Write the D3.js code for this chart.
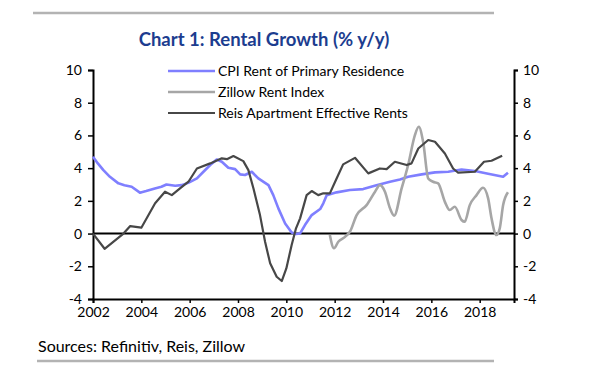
<!DOCTYPE html>
<html>
<head>
<meta charset="utf-8">
<script src="https://cdn.jsdelivr.net/npm/d3@7"></script>
<style>
  body { margin: 0; background: #fff; }
  svg text { font-family: Lato, "Open Sans", sans-serif; fill: #000; }
</style>
</head>
<body>
<div id="chart"></div>
<script>
// series (decimal years, % y/y)
const cpiYears = [2002.0, 2002.2, 2002.43, 2002.7, 2003.05, 2003.3, 2003.6, 2003.94, 2004.2, 2004.56, 2004.83, 2005.04, 2005.4, 2005.66, 2005.94, 2006.3, 2006.57, 2006.85, 2007.12, 2007.33, 2007.6, 2007.88, 2008.09, 2008.29, 2008.57, 2008.84, 2009.26, 2009.46, 2009.67, 2009.95, 2010.22, 2010.4, 2010.57, 2010.77, 2011.05, 2011.4, 2011.53, 2011.67, 2012.08, 2012.63, 2013.18, 2013.73, 2014.29, 2014.7, 2015.04, 2015.6, 2016.15, 2016.7, 2017.25, 2017.8, 2018.35, 2018.97, 2019.17];
const cpiValues = [4.7, 4.29, 3.88, 3.47, 3.07, 2.96, 2.86, 2.5, 2.6, 2.76, 2.86, 3.0, 2.92, 2.96, 3.1, 3.37, 3.78, 4.19, 4.53, 4.39, 4.02, 3.94, 3.62, 3.58, 3.78, 3.37, 2.96, 2.35, 1.54, 0.62, 0.07, -0.03, 0.01, 0.52, 1.13, 1.5, 1.85, 2.35, 2.52, 2.66, 2.72, 2.96, 3.17, 3.31, 3.47, 3.62, 3.74, 3.78, 3.92, 3.82, 3.66, 3.47, 3.72];

const zillowYears = [2011.8, 2011.97, 2012.15, 2012.43, 2012.63, 2012.91, 2013.32, 2013.67, 2013.87, 2014.08, 2014.29, 2014.46, 2014.77, 2015.04, 2015.32, 2015.48, 2015.66, 2015.87, 2016.07, 2016.28, 2016.56, 2016.76, 2016.97, 2017.25, 2017.38, 2017.59, 2017.87, 2018.14, 2018.35, 2018.49, 2018.69, 2018.83, 2018.97, 2019.17];
const zillowValues = [-0.09, -0.9, -0.5, -0.2, 0.11, 1.13, 1.74, 2.56, 2.96, 2.56, 1.54, 1.09, 2.76, 4.19, 6.02, 6.53, 5.61, 3.37, 3.17, 3.07, 1.94, 1.44, 1.64, 0.83, 0.72, 1.74, 2.35, 2.8, 2.15, 0.93, -0.09, 0.32, 1.74, 2.52];

const reisYears = [2002.0, 2002.48, 2003.26, 2003.54, 2004.0, 2004.57, 2004.98, 2005.26, 2005.6, 2005.95, 2006.3, 2006.85, 2007.33, 2007.54, 2007.81, 2008.22, 2008.43, 2008.64, 2008.91, 2009.12, 2009.33, 2009.6, 2009.81, 2010.0, 2010.22, 2010.4, 2010.57, 2010.84, 2011.05, 2011.32, 2011.53, 2011.8, 2012.08, 2012.35, 2012.84, 2013.39, 2013.87, 2014.15, 2014.49, 2014.98, 2015.18, 2015.46, 2015.87, 2016.15, 2016.56, 2016.9, 2017.11, 2017.8, 2018.18, 2018.49, 2018.93];
const reisValues = [0.0, -0.93, 0.0, 0.46, 0.36, 1.85, 2.56, 2.35, 2.76, 3.17, 3.98, 4.29, 4.6, 4.55, 4.74, 4.43, 3.88, 2.76, 1.13, -0.5, -1.82, -2.64, -2.9, -2.13, -0.7, 0.32, 0.93, 2.35, 2.6, 2.35, 2.46, 2.46, 3.37, 4.23, 4.63, 3.68, 3.98, 3.94, 4.39, 4.19, 4.29, 5.2, 5.72, 5.61, 4.9, 3.98, 3.72, 3.78, 4.39, 4.45, 4.76];

const seriesNames = ["CPI Rent of Primary Residence", "Zillow Rent Index", "Reis Apartment Effective Rents"];
const yTicks = [-4, -2, 0, 2, 4, 6, 8, 10];
const xTicks = [2002, 2004, 2006, 2008, 2010, 2012, 2014, 2016, 2018];

const W = 601, H = 376;
const margin = {top: 70, left: 93, right: 87, bottom: 77};

const svg = d3.select("#chart").append("svg")
  .attr("width", W).attr("height", H);

const x = d3.scaleLinear().domain([2002, 2019.42]).range([margin.left, W - margin.right]);
const y = d3.scaleLinear().domain([-4, 10]).range([H - margin.bottom, margin.top]);

// plain hyphen for negatives, like the original
const fmt = d => String(d);

// header / footer rules
svg.append("line").attr("x1", 33).attr("x2", 494).attr("y1", 13).attr("y2", 13)
  .attr("stroke", "#b3b3b3").attr("stroke-width", 2.5);
svg.append("line").attr("x1", 37).attr("x2", 494).attr("y1", 361).attr("y2", 361)
  .attr("stroke", "#b3b3b3").attr("stroke-width", 2.5);

svg.append("text").attr("x", 264).attr("y", 46)
  .attr("text-anchor", "middle")
  .style("font-size", "18.5px").style("font-weight", "bold")
  .style("fill", "#1c3d8f")
  .text("Chart 1: Rental Growth (% y/y)");

svg.append("text").attr("x", 38).attr("y", 352)
  .style("font-size", "16px")
  .text("Sources: Refinitiv, Reis, Zillow");

// axes
const yLeft = svg.append("g").attr("transform", `translate(${margin.left},0)`)
  .call(d3.axisLeft(y).tickValues(yTicks).tickSize(5).tickPadding(6).tickFormat(fmt));
const yRight = svg.append("g").attr("transform", `translate(${W - margin.right},0)`)
  .call(d3.axisRight(y).tickValues(yTicks).tickSize(4).tickPadding(5).tickFormat(fmt));
const xAxis = svg.append("g").attr("transform", `translate(0,${H - margin.bottom})`)
  .call(d3.axisBottom(x).tickValues(xTicks).tickSize(4).tickPadding(4).tickFormat(fmt));

[yLeft, yRight, xAxis].forEach(g => {
  g.select(".domain").attr("stroke", "#000").attr("stroke-width", 2);
  g.selectAll(".tick line").attr("stroke", "#000").attr("stroke-width", 1.5);
  g.selectAll("text").style("font-size", "14px").style("font-family", "Lato, sans-serif");
});

// zero line
svg.append("line")
  .attr("x1", x(2002)).attr("x2", x(2019.42))
  .attr("y1", y(0)).attr("y2", y(0))
  .attr("stroke", "#000").attr("stroke-width", 2);

const zip = (xs, vs) => xs.map((d, i) => ({t: d, v: vs[i]}));

const series = [
  {name: seriesNames[0], data: zip(cpiYears, cpiValues), color: "#7f7fff", width: 2.6, curve: d3.curveLinear},
  {name: seriesNames[1], data: zip(zillowYears, zillowValues), color: "#a6a6a6", width: 2.6, curve: d3.curveMonotoneX},
  {name: seriesNames[2], data: zip(reisYears, reisValues), color: "#474747", width: 2.2, curve: d3.curveLinear}
];

series.forEach(s => {
  const line = d3.line().x(d => x(d.t)).y(d => y(d.v)).curve(s.curve);
  svg.append("path").datum(s.data)
    .attr("fill", "none")
    .attr("stroke", s.color)
    .attr("stroke-width", s.width)
    .attr("stroke-linejoin", "round")
    .attr("d", line);
});

// legend
const legend = svg.append("g").attr("transform", "translate(168,71)");
series.forEach((s, i) => {
  const row = legend.append("g").attr("transform", `translate(0,${i * 21})`);
  row.append("line").attr("x1", 0).attr("x2", 47).attr("y1", 0).attr("y2", 0)
    .attr("stroke", s.color).attr("stroke-width", s.width);
  row.append("text").attr("x", 50).attr("y", 5)
    .style("font-size", "14px")
    .text(s.name);
});
</script>
</body>
</html>
